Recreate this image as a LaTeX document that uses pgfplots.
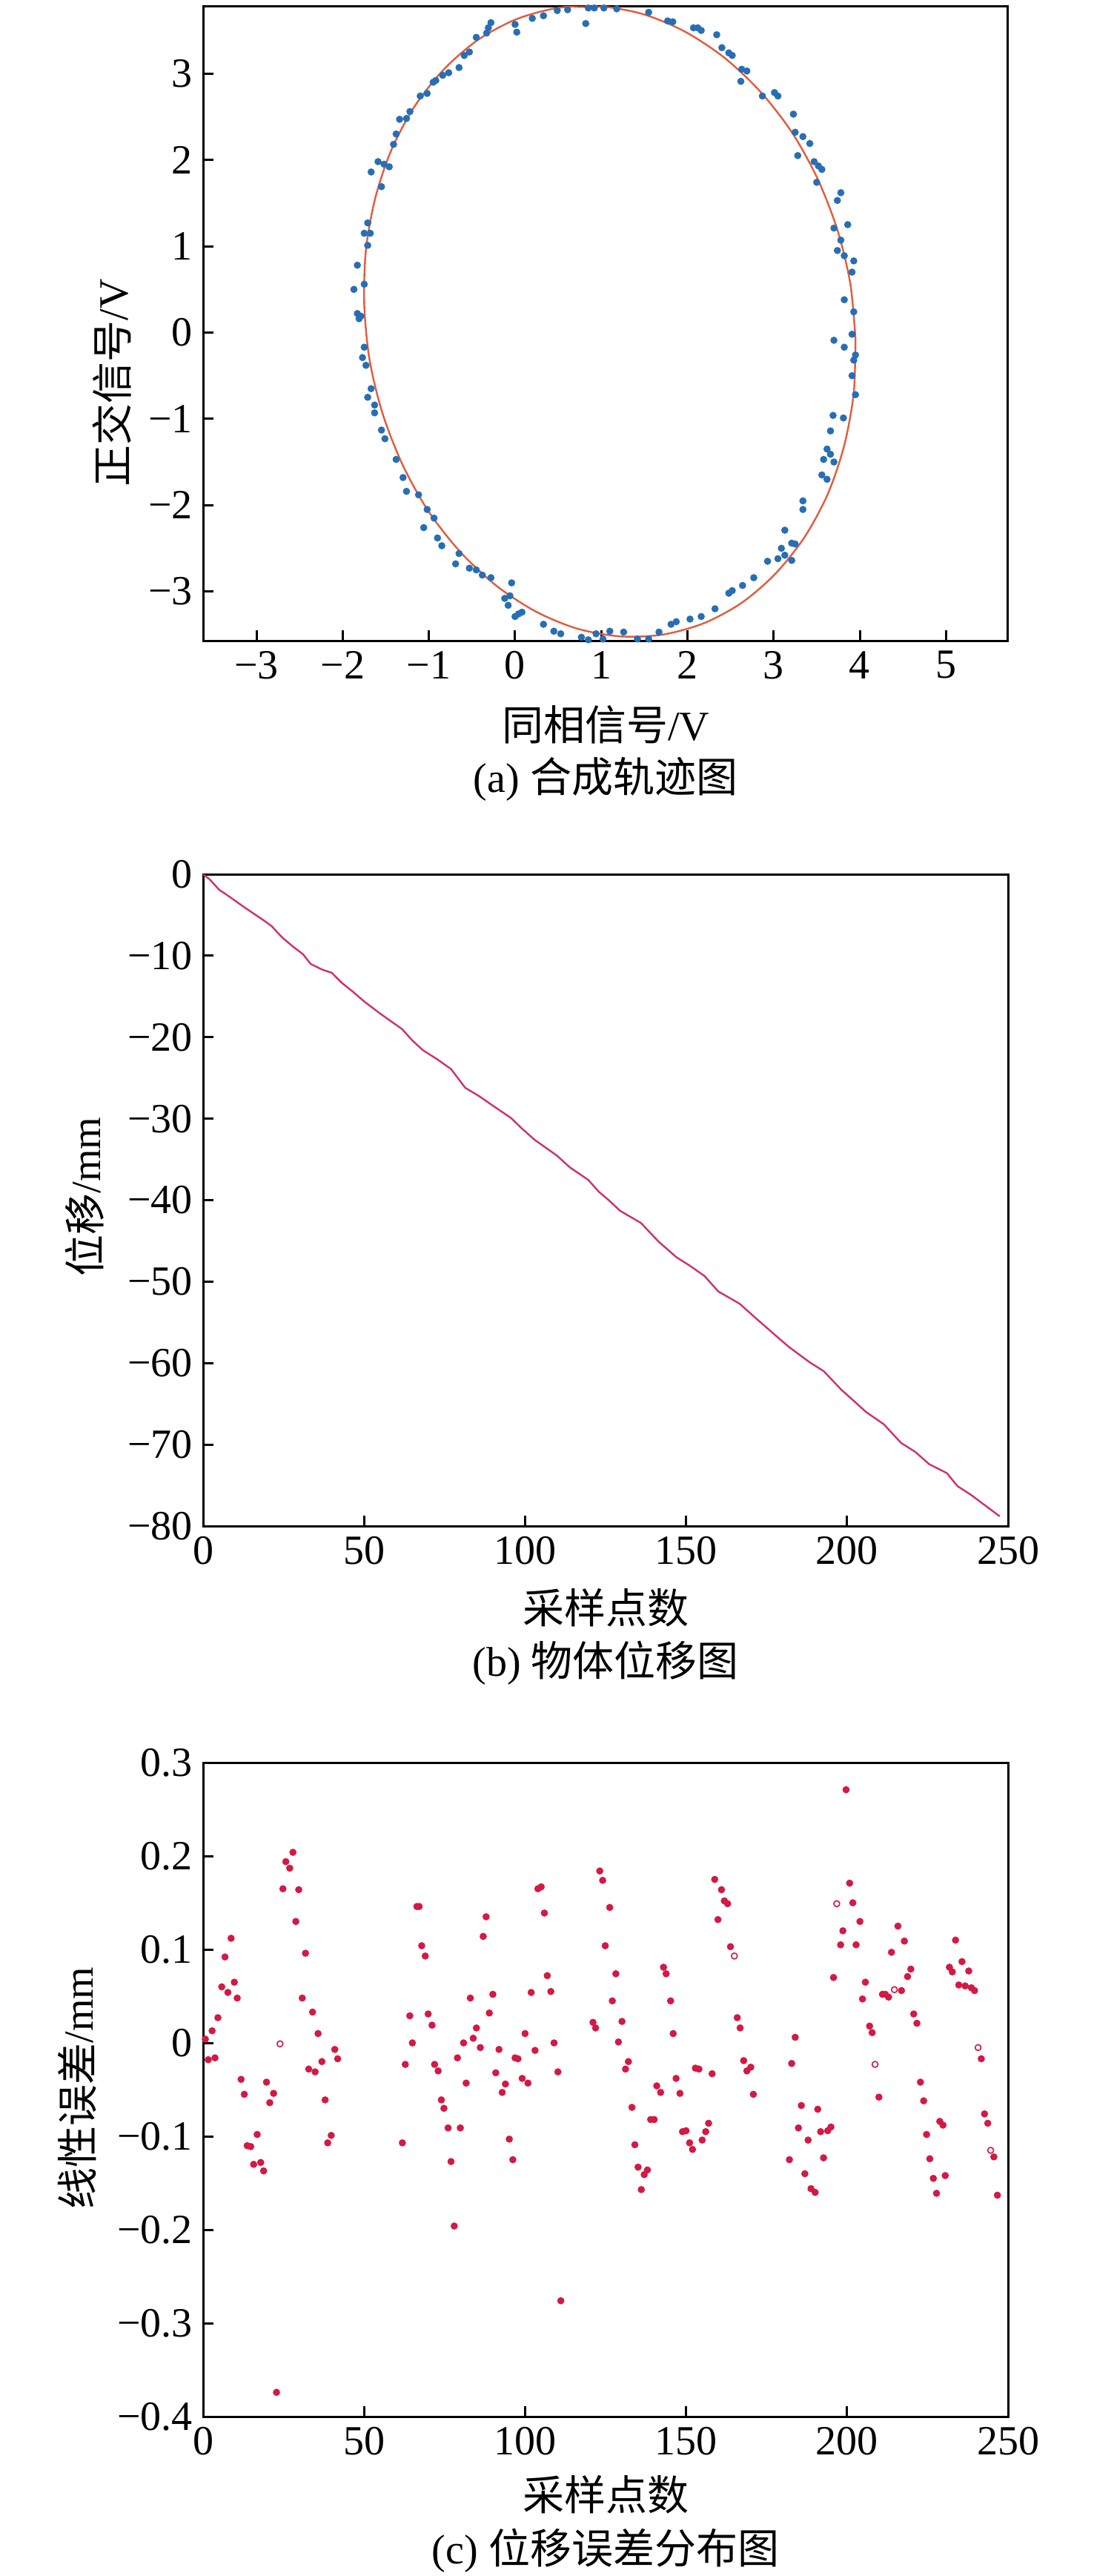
\documentclass[border=0pt]{standalone}
\usepackage{fontspec}
\setmainfont{Liberation Serif}
\newfontfamily\cjk{Noto Sans CJK SC}
\usepackage{pgfplots}
\pgfplotsset{compat=1.18}
\definecolor{ptblue}{RGB}{40,110,180}
\definecolor{fitred}{RGB}{226,92,62}
\definecolor{linered}{RGB}{205,50,110}
\definecolor{ptred}{RGB}{212,25,68}
\newcommand{\fs}{\fontsize{14}{16}\selectfont}
\pgfplotsset{
  common/.style={
    scale only axis, anchor=south west, width=271.5pt,
    axis line style={line width=0.75pt},
    every tick/.style={line width=0.75pt, black},
    tick align=inside, major tick length=3.6pt,
    xtick pos=left, ytick pos=left,
    ticklabel style={font=\fs},
    /pgf/number format/assume math mode=true,
  }
}
\begin{document}
\begin{tikzpicture}
\useasboundingbox (0,0) rectangle (369pt,-868.5pt);
% ---------------- (a)
\begin{axis}[common, at={(68.5pt,-216pt)}, height=213.9pt,
  xmin=-3.62, xmax=5.72, ymin=-3.57, ymax=3.78,
  xtick={-3,-2,-1,0,1,2,3,4,5}, xticklabels={−3,−2,−1,0,1,2,3,4,5},
  ytick={-3,-2,-1,0,1,2,3}, yticklabels={−3,−2,−1,0,1,2,3}]
\addplot[only marks, mark=*, mark size=1pt, draw=ptblue, fill=ptblue] coordinates {
(-0.28,3.59)(0.00,3.57)(0.02,3.48)(0.20,3.64)(0.33,3.67)(0.49,3.73)(0.61,3.74)(0.85,3.76)
(0.92,3.76)(1.03,3.76)(0.82,3.58)(1.18,3.75)(1.55,3.71)(1.77,3.61)(1.83,3.60)(2.07,3.53)
(2.12,3.53)(2.16,3.50)(2.34,3.45)(2.40,3.30)(2.48,3.24)(2.52,3.21)(2.63,3.05)(2.69,3.03)
(2.62,2.91)(2.87,2.74)(3.01,2.78)(3.05,2.74)(3.23,2.53)(3.25,2.32)(3.34,2.27)(3.42,2.19)
(3.28,2.05)(3.47,1.98)(3.52,1.93)(3.56,1.89)(3.50,1.74)(3.78,1.62)(3.74,1.53)(3.86,1.25)
(3.70,1.21)(3.78,1.07)(3.74,0.95)(3.82,0.89)(3.93,0.83)(3.91,0.70)(3.82,0.38)(3.93,0.24)
(3.91,-0.02)(3.70,-0.09)(3.82,-0.17)(3.95,-0.26)(3.93,-0.32)(3.91,-0.50)(3.95,-0.72)(3.81,-0.99)
(3.69,-0.96)(3.66,-1.14)(3.62,-1.35)(3.66,-1.41)(3.58,-1.47)(3.70,-1.50)(3.56,-1.65)(3.62,-1.70)
(3.34,-1.95)(3.34,-2.05)(3.13,-2.29)(3.21,-2.44)(3.09,-2.50)(3.25,-2.45)(3.13,-2.58)(3.21,-2.64)
(3.05,-2.62)(2.93,-2.65)(2.77,-2.84)(2.64,-2.93)(2.52,-2.99)(2.48,-3.02)(2.32,-3.20)(2.16,-3.29)
(2.03,-3.32)(1.87,-3.35)(1.81,-3.38)(1.67,-3.47)(1.55,-3.55)(1.42,-3.55)(1.26,-3.47)(1.10,-3.46)
(1.02,-3.55)(0.94,-3.49)(0.85,-3.56)(0.77,-3.53)(0.53,-3.49)(0.45,-3.46)(0.33,-3.38)(0.04,-3.26)
(0.00,-3.29)(0.08,-3.24)(-0.08,-3.16)(-0.12,-3.08)(-0.06,-3.05)(-0.04,-2.90)(-0.28,-2.84)(-0.38,-2.81)
(-0.45,-2.75)(-0.53,-2.73)(-0.69,-2.68)(-0.65,-2.56)(-0.85,-2.47)(-0.90,-2.38)(-1.06,-2.26)(-0.94,-2.15)
(-1.02,-2.05)(-1.12,-1.88)(-1.26,-1.84)(-1.30,-1.68)(-1.38,-1.47)(-1.51,-1.23)(-1.55,-1.13)(-1.63,-0.93)
(-1.63,-0.84)(-1.71,-0.75)(-1.67,-0.65)(-1.73,-0.38)(-1.77,-0.29)(-1.75,-0.17)(-1.81,0.16)(-1.83,0.22)
(-1.79,0.19)(-1.87,0.50)(-1.83,0.78)(-1.75,0.56)(-1.71,1.01)(-1.75,1.15)(-1.68,1.15)(-1.71,1.27)
(-1.67,1.86)(-1.55,1.69)(-1.59,1.98)(-1.52,1.95)(-1.46,1.92)(-1.41,2.18)(-1.38,2.30)(-1.34,2.47)
(-1.26,2.48)(-1.22,2.56)(-1.10,2.74)(-1.02,2.77)(-0.95,2.90)(-0.92,2.92)(-0.84,2.98)(-0.77,3.01)
(-0.65,3.07)(-0.59,3.21)(-0.53,3.25)(-0.45,3.42)(-0.33,3.47)(-0.31,3.53)
};
\addplot[smooth, fitred, line width=0.6pt] coordinates {
(3.95,-0.07)(3.89,0.567)(3.74,1.190)(3.51,1.782)(3.21,2.323)(2.84,2.797)(2.42,3.191)(1.96,3.492)
(1.48,3.690)(0.98,3.780)(0.49,3.760)(0.01,3.628)(-0.43,3.391)(-0.82,3.055)(-1.16,2.629)(-1.43,2.128)
(-1.62,1.566)(-1.73,0.961)(-1.75,0.33)(-1.69,-0.307)(-1.54,-0.930)(-1.31,-1.522)(-1.01,-2.063)
(-0.64,-2.537)(-0.22,-2.931)(0.24,-3.232)(0.72,-3.430)(1.22,-3.52)(1.71,-3.500)(2.19,-3.368)
(2.63,-3.131)(3.02,-2.795)(3.36,-2.369)(3.63,-1.868)(3.82,-1.306)(3.93,-0.701)(3.95,-0.07)
};
\end{axis}
\node[font=\fs] at (204.25pt,-244.25pt) {{\cjk 同相信号}/V};
\node[font=\fs] at (204.25pt,-262.75pt) {(a) {\cjk 合成轨迹图}};
\node[font=\fs, rotate=90] at (37.75pt,-129pt) {{\cjk 正交信号}/V};
% ---------------- (b)
\begin{axis}[common, at={(68.5pt,-514.5pt)}, height=219.75pt,
  xmin=0, xmax=250, ymin=-80, ymax=0,
  xtick={0,50,100,150,200,250}, xticklabels={0,50,100,150,200,250},
  ytick={-80,-70,-60,-50,-40,-30,-20,-10,0},
  yticklabels={−80,−70,−60,−50,−40,−30,−20,−10,0}]
\addplot[linered, line width=0.6pt] coordinates {
(0,0)(2,-0.6)(5,-1.9)(8,-2.7)(10.5,-3.4)(13,-4.1)(16,-4.9)(19,-5.7)(21.4,-6.4)(23,-7.1)
(24.7,-7.8)(28,-8.9)(31,-9.8)(33.4,-11)(37,-11.7)(40,-12.1)(43,-13.3)(46.5,-14.4)(50,-15.6)
(55,-17.1)(61.8,-19)(65,-20.4)(68.3,-21.6)(72.7,-22.7)(77,-23.9)(81.4,-26.2)(86,-27.3)(90,-28.4)
(95.6,-29.9)(99,-31.2)(103,-32.6)(109.8,-34.5)(114,-36)(119.6,-37.5)(123,-39)(126,-40)(129.5,-41.3)
(136,-42.8)(141.5,-45.1)(147,-47)(151,-48)(155.7,-49.3)(160,-51.2)(166.6,-52.7)(172,-54.6)
(177.5,-56.5)(181.9,-58)(188.4,-59.9)(192.8,-61)(198.3,-63.3)(202,-64.6)(205.9,-66)(211.4,-67.5)
(216.8,-69.8)(221.2,-70.9)(225.5,-72.4)(231,-73.5)(234.3,-75.1)(238.6,-76.2)(243,-77.5)(247.4,-78.8)
};
\end{axis}
\node[font=\fs] at (204.25pt,-542pt) {\cjk 采样点数};
\node[font=\fs] at (204.25pt,-560.75pt) {(b) {\cjk 物体位移图}};
\node[font=\fs, rotate=90] at (28.5pt,-403.5pt) {{\cjk 位移}/mm};
% ---------------- (c)
\begin{axis}[common, at={(68.5pt,-814.75pt)}, height=220.5pt,
  xmin=0, xmax=250, ymin=-0.4, ymax=0.3,
  xtick={0,50,100,150,200,250}, xticklabels={0,50,100,150,200,250},
  ytick={-0.4,-0.3,-0.2,-0.1,0,0.1,0.2,0.3},
  yticklabels={−0.4,−0.3,−0.2,−0.1,0,0.1,0.2,0.3}]
\addplot[only marks, mark=*, mark size=1pt, draw=ptred, fill=ptred] coordinates {
(0.7,0.004)(1.6,-0.018)(2.8,0.013)(3.7,-0.016)(4.6,0.027)(5.8,0.060)(6.8,0.092)(7.7,0.054)
(8.7,0.112)(9.7,0.065)(10.6,0.048)(11.8,-0.039)(12.8,-0.055)(13.7,-0.110)(14.8,-0.111)(15.7,-0.130)
(16.8,-0.098)(17.9,-0.128)(18.8,-0.137)(19.7,-0.042)(20.7,-0.064)(21.9,-0.054)(22.8,-0.374)
(24.8,0.165)(25.7,0.194)(26.9,0.187)(27.9,0.204)(29.7,0.164)(28.8,0.130)(31.8,0.096)(30.8,0.048)
(34.0,0.033)(32.8,-0.028)(34.8,-0.031)(35.7,0.010)(36.9,-0.020)(37.9,-0.061)(38.7,-0.107)(39.8,-0.099)
(40.9,-0.007)(41.8,-0.017)
(61.9,-0.107)(62.8,-0.023)(64.2,0.029)(65.0,0.000)(66.4,0.146)(67.1,0.146)(67.9,0.104)(69.0,0.093)
(69.9,0.031)(71.1,0.019)(71.9,-0.023)(73.0,-0.030)(74.0,-0.061)(74.8,-0.070)(76.1,-0.091)(77.0,-0.127)
(78.0,-0.196)(79.0,-0.016)(79.9,-0.091)(80.9,0.000)(81.7,-0.043)(83.0,0.048)(83.9,0.005)(84.9,0.016)
(86.1,-0.005)(87.0,0.114)(87.9,0.135)(88.9,0.032)(90.0,0.052)(90.9,-0.032)(91.9,-0.007)(92.9,-0.053)
(93.9,-0.044)(95.1,-0.103)(96.2,-0.125)(96.9,-0.016)(97.8,-0.017)(99.1,-0.038)(100.0,0.010)(100.9,-0.043)
(101.9,0.054)(103.1,-0.008)(104.0,0.165)(105.0,0.167)(106.0,0.139)(106.9,0.072)(108.0,0.055)(109.0,0.000)
(110.2,-0.031)(111.1,-0.276)
(121.1,0.022)(121.9,0.016)(123.2,0.184)(124.1,0.174)(124.9,0.104)(126.3,0.145)(127.1,0.045)(128.2,0.074)
(129.0,0.001)(130.1,0.023)(131.2,-0.028)(132.1,-0.020)(133.2,-0.069)(134.1,-0.109)(135.1,-0.133)(136.1,-0.157)
(137.0,-0.141)(138.0,-0.136)(139.0,-0.082)(140.1,-0.082)(140.9,-0.046)(142.1,-0.053)(143.0,0.081)(143.8,0.074)
(145.2,0.045)(146.0,0.010)(146.9,-0.038)(148.1,-0.054)(148.9,-0.095)(150.0,-0.094)(151.1,-0.107)(152.0,-0.114)
(152.9,-0.027)(154.0,-0.028)(155.0,-0.104)(156.1,-0.095)(157.0,-0.086)(158.1,-0.033)(158.9,0.175)(159.9,0.132)
(161.0,0.164)(161.9,0.152)(162.9,0.149)(163.8,0.103)(165.9,0.027)(166.8,0.016)(167.9,-0.019)(168.9,-0.030)
(170.1,-0.026)(170.9,-0.055)
(182.1,-0.125)(182.8,-0.022)(183.9,0.006)(184.9,-0.091)(185.8,-0.067)(186.9,-0.140)(187.9,-0.104)(188.8,-0.156)
(190.1,-0.160)(190.9,-0.071)(191.8,-0.095)(192.7,-0.123)(194.0,-0.094)(195.0,-0.090)(195.8,0.070)(198.0,0.105)
(198.7,0.120)(199.7,0.271)(200.8,0.171)(201.8,0.150)(202.8,0.105)(204.0,0.130)(204.8,0.047)(205.7,0.065)
(207.0,0.018)(207.8,0.011)(209.9,-0.058)(211.0,0.052)(211.9,0.052)(212.9,0.049)(213.8,0.097)(215.8,0.125)
(216.9,0.056)(217.8,0.109)(218.8,0.071)(219.8,0.079)(220.7,0.031)(221.7,0.021)(222.8,-0.042)(223.8,-0.062)
(224.7,-0.098)(225.7,-0.124)(226.8,-0.145)(227.8,-0.161)(228.8,-0.084)(229.8,-0.088)(230.5,-0.142)(231.8,0.081)
(232.7,0.076)(233.7,0.110)(234.7,0.062)(235.7,0.087)(236.7,0.061)(237.8,0.077)(238.6,0.059)(239.6,0.056)
(241.7,-0.017)(242.7,-0.076)(243.7,-0.086)(245.6,-0.122)(246.7,-0.163)
};
\addplot[only marks, mark=o, mark size=1pt, draw=ptred, line width=0.4pt] coordinates {
(23.9,-0.001)(165.0,0.093)(196.8,0.149)(208.7,-0.023)(214.7,0.057)(240.7,-0.005)(244.6,-0.115)
};
\end{axis}
\node[font=\fs] at (204.25pt,-841pt) {\cjk 采样点数};
\node[font=\fs] at (204.25pt,-860pt) {(c) {\cjk 位移误差分布图}};
\node[font=\fs, rotate=90] at (26pt,-704pt) {{\cjk 线性误差}/mm};
\end{tikzpicture}
\end{document}
